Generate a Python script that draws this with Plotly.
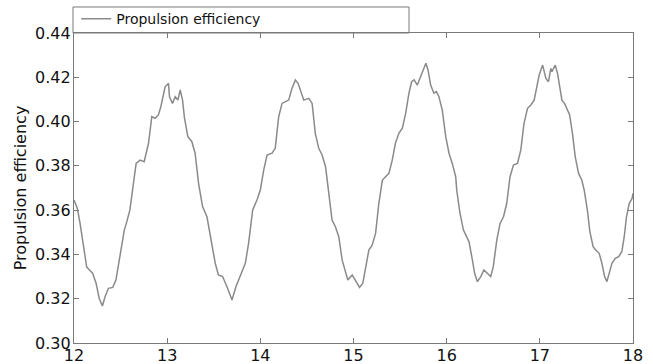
import plotly.graph_objects as go

# Time (s) and propulsion efficiency samples
time_s = [
    12.0, 12.036, 12.065, 12.10, 12.136, 12.165, 12.20, 12.237, 12.27, 12.305,
    12.333, 12.37, 12.416, 12.45, 12.495, 12.54, 12.567, 12.60, 12.638, 12.667,
    12.71, 12.753, 12.80, 12.835, 12.87, 12.906, 12.932, 12.96, 12.978, 12.997,
    13.014, 13.025, 13.057, 13.086, 13.115, 13.14, 13.165, 13.186, 13.222, 13.265,
    13.30, 13.337, 13.38, 13.427, 13.473, 13.516, 13.55, 13.595, 13.642, 13.696,
    13.738, 13.785, 13.839, 13.874, 13.918, 13.964, 14.0, 14.036, 14.072, 14.126,
    14.16, 14.197, 14.233, 14.27, 14.304, 14.34, 14.376, 14.405, 14.437, 14.466,
    14.52, 14.556, 14.59, 14.627, 14.663, 14.70, 14.735, 14.77, 14.806, 14.842,
    14.878, 14.914, 14.939, 14.986, 15.02, 15.065, 15.10, 15.13, 15.165, 15.20,
    15.237, 15.272, 15.31, 15.344, 15.38, 15.416, 15.45, 15.487, 15.524, 15.56,
    15.595, 15.624, 15.65, 15.685, 15.72, 15.756, 15.777, 15.80, 15.828, 15.863,
    15.89, 15.917, 15.953, 15.99, 16.025, 16.06, 16.097, 16.108, 16.143, 16.18,
    16.215, 16.24, 16.276, 16.30, 16.33, 16.366, 16.40, 16.438, 16.473, 16.50,
    16.538, 16.573, 16.61, 16.645, 16.68, 16.717, 16.76, 16.796, 16.83, 16.868,
    16.903, 16.939, 16.968, 16.993, 17.03, 17.065, 17.093, 17.118, 17.13, 17.165,
    17.19, 17.215, 17.237, 17.265, 17.298, 17.32, 17.35, 17.38, 17.416, 17.45,
    17.476, 17.51, 17.537, 17.572, 17.60, 17.637, 17.666, 17.695, 17.72, 17.745,
    17.774, 17.81, 17.846, 17.88, 17.906, 17.93, 17.96, 17.99, 18.0,
]
efficiency = [
    0.3646, 0.3608, 0.354, 0.3435, 0.3344, 0.333, 0.3315, 0.327, 0.3202, 0.3167,
    0.3209, 0.3247, 0.3251, 0.3284, 0.3405, 0.351, 0.3548, 0.3601, 0.3721, 0.3811,
    0.3826, 0.3819, 0.3902, 0.4022, 0.4015, 0.403, 0.4067, 0.4128, 0.4157, 0.4165,
    0.4173, 0.4112, 0.4082, 0.4112, 0.4097, 0.4143, 0.4097, 0.4015, 0.3932, 0.3909,
    0.3857, 0.3721, 0.3616, 0.357, 0.3465, 0.336, 0.3307, 0.330, 0.3254, 0.3194,
    0.3254, 0.3307, 0.336, 0.345, 0.3601, 0.3646, 0.3691, 0.3781, 0.3849, 0.3857,
    0.3879, 0.4022, 0.4082, 0.409, 0.4097, 0.415, 0.4188, 0.4173, 0.4128, 0.4097,
    0.4105, 0.4082, 0.3947, 0.3879, 0.3849, 0.3796, 0.3676, 0.3555, 0.3525, 0.348,
    0.3375, 0.3315, 0.3284, 0.3307, 0.3284, 0.3251, 0.327, 0.3344, 0.342, 0.3442,
    0.3495, 0.3631, 0.3736, 0.3751, 0.3766, 0.3826, 0.3902, 0.3947, 0.397, 0.4037,
    0.4128, 0.418, 0.4188, 0.4165, 0.4203, 0.4233, 0.4263, 0.4233, 0.4165, 0.4128,
    0.4135, 0.4112, 0.4052, 0.3932, 0.3857, 0.3811, 0.3751, 0.3691, 0.3586, 0.351,
    0.348, 0.3457, 0.3375, 0.3315, 0.3277, 0.330, 0.333, 0.3315, 0.330, 0.3344,
    0.3465, 0.354, 0.357, 0.3631, 0.3751, 0.3804, 0.3811, 0.3872, 0.3992, 0.406,
    0.4075, 0.4097, 0.4157, 0.421, 0.4255, 0.4195, 0.418, 0.424, 0.4225, 0.4255,
    0.4218, 0.4143, 0.4097, 0.4082, 0.4052, 0.403, 0.3947, 0.3841, 0.3766, 0.3736,
    0.3691, 0.3601, 0.3503, 0.3435, 0.342, 0.3405, 0.336, 0.330, 0.3277, 0.3315,
    0.336, 0.3382, 0.339, 0.3412, 0.348, 0.357, 0.3631, 0.3653, 0.3676,
]

x_ticks = [12, 13, 14, 15, 16, 17, 18]
y_ticks = [0.30, 0.32, 0.34, 0.36, 0.38, 0.40, 0.42, 0.44]
y_tick_text = [f"{v:.2f}" for v in y_ticks]

frame = "#7a7a7a"
font = "DejaVu Sans"

fig = go.Figure()
fig.add_trace(go.Scatter(
    x=time_s, y=efficiency, mode="lines",
    name="Propulsion efficiency",
    line=dict(color="#8a8a8a", width=1.5),
))

axis_common = dict(
    showgrid=False, zeroline=False, showline=True, linecolor=frame, linewidth=1.2,
    mirror="ticks", ticks="inside", ticklen=5, tickcolor=frame, tickwidth=1,
    tickfont=dict(family=font, size=16, color="#111"), automargin=False,
)

fig.update_xaxes(range=[12, 18], tickvals=x_ticks, ticktext=[str(v) for v in x_ticks],
                 ticklabelstandoff=-2, **axis_common)
fig.update_yaxes(range=[0.30, 0.44], tickvals=y_ticks, ticktext=y_tick_text,
                 ticklabelstandoff=-1,
                 title=dict(text="Propulsion efficiency", font=dict(family=font, size=16, color="#111"),
                            standoff=4),
                 **axis_common)

# Legend frame sitting on top of the axes box
fig.add_shape(type="rect", xref="paper", yref="paper",
              x0=-0.0018, x1=0.5993, y0=1.0, y1=1.0839,
              line=dict(color=frame, width=1), fillcolor="white", layer="below")

fig.update_layout(
    width=653, height=364,
    margin=dict(l=74, r=20, t=33, b=21, autoexpand=False),
    paper_bgcolor="white", plot_bgcolor="white",
    showlegend=True,
    legend=dict(x=0.004, y=1.045, xanchor="left", yanchor="middle",
                bgcolor="rgba(0,0,0,0)", borderwidth=0,
                font=dict(family=font, size=14, color="#111"),
                itemwidth=30),
)

fig.write_html("out.html")
